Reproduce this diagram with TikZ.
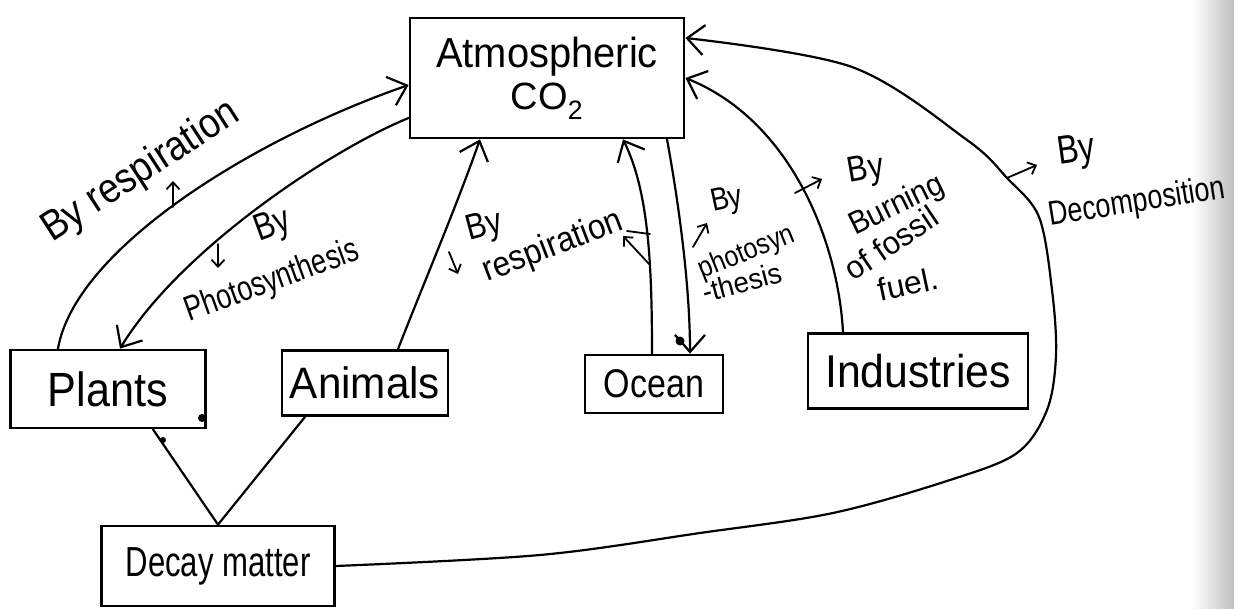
\documentclass[tikz,border=0pt]{standalone}
\usepackage{fontspec}
\setmainfont{Liberation Sans}
\usetikzlibrary{arrows.meta}
% horizontally condensed text, for the tall narrow lettering
\newcommand\narrowtext[2]{\scalebox{#1}[1]{#2}}

\begin{document}
\begin{tikzpicture}[x=1pt,y=-1pt,
  box/.style={draw, line width=2.8pt, inner sep=0pt, align=center},
  link/.style={line width=2.2pt, line cap=round},
  arr/.style={link, -{Straight Barb[length=17pt,width=30pt,line width=2.2pt]}},
  hint/.style={line width=1.8pt, line cap=round,
               -{Straight Barb[length=7pt,width=13pt,line width=1.8pt]}},
  lbl/.style={inner sep=0pt, font=\fontsize{#1pt}{#1pt}\selectfont},
  dot/.style={fill=black}
]
% paper
\useasboundingbox (0,0) rectangle (1234,609);
\fill[white] (0,0) rectangle (1234,609);
\shade[left color=white, right color=black!25] (1192,0) rectangle (1234,609);

% boxes
\node[box, minimum width=274pt, minimum height=120pt, font=\fontsize{42}{44}\selectfont]
  (atm) at (547,78) {\narrowtext{0.95}{Atmospheric}\\[-2pt]{\fontsize{38}{40}\selectfont CO\textsubscript{2}}};
\node[box, minimum width=195pt, minimum height=78pt, font=\fontsize{48}{50}\selectfont]
  (plants) at (108,389) {\narrowtext{0.9}{Plants}};
\node[box, minimum width=166pt, minimum height=65pt, font=\fontsize{44}{46}\selectfont]
  (animals) at (365,383) {\narrowtext{0.96}{Animals}};
\node[box, minimum width=138pt, minimum height=58pt, font=\fontsize{40}{42}\selectfont]
  (ocean) at (654,384) {\narrowtext{0.85}{Ocean}};
\node[box, minimum width=220pt, minimum height=75pt, font=\fontsize{46}{48}\selectfont]
  (ind) at (918,371) {\narrowtext{0.93}{Industries}};
\node[box, minimum width=233pt, minimum height=80pt, font=\fontsize{42}{44}\selectfont]
  (decay) at (218,566) {\narrowtext{0.74}{Decay matter}};

% exchanges with the atmosphere
\draw[arr] ([xshift=-50pt]plants.north) .. controls (75,250) and (250,140) .. ([yshift=-7pt]atm.west);
\draw[arr] ([yshift=-40pt]atm.west) .. controls (330,150) and (180,250) .. ([xshift=12pt]plants.north);
\draw[arr] ([xshift=33pt]animals.north) .. controls (425,280) and (455,210) .. ([xshift=-67pt]atm.south);
\draw[arr] ([xshift=-2pt]ocean.north) .. controls (652,260) and (648,190) .. ([xshift=76pt]atm.south);
\draw[arr] ([xshift=120pt]atm.south) .. controls (680,210) and (690,290) .. ([xshift=36pt]ocean.north);
\draw[arr] ([xshift=-75pt]ind.north) .. controls (838,240) and (790,120) .. (atm.east);
\draw[arr] plot[smooth, tension=0.55] coordinates {(decay.east) (540,555) (700,533) (833,513)
  (950,480) (1017,453) (1047,410) (1056,355) (1052,290) (1039,217) (1007,178) (967,140)
  (852,67) ([yshift=40pt]atm.east)};

% into decay matter
\draw[link] ([xshift=45pt]plants.south) -- (decay.north);
\draw[link] ([xshift=-60pt]animals.south) -- (decay.north);

% small pointers to the labels
\draw[hint] (173,207) -- (173,181);
\draw[hint] (218,244) -- (218,268);
\draw[hint] (449,252) -- (458,274);
\draw[hint] (650,265) -- (623,236);
\draw[link, line width=1.8pt] (627,231) -- (650,234);
\draw[hint] (693,247) -- (707,223);
\draw[hint] (795,193) -- (822,179);
\draw[hint] (1007,178) -- (1037,165);

% labels
\node[lbl=42, rotate=33] (t1) at (141,172) {\narrowtext{0.88}{By respiration}};
\node[lbl=38, rotate=20] (t2a) at (273,227) {\narrowtext{0.8}{By}};
\node[lbl=35, rotate=20] (t2b) at (272,282) {\narrowtext{0.77}{Photosynthesis}};
\node[lbl=36, rotate=15] (t3a) at (485,228) {\narrowtext{0.85}{By}};
\node[lbl=35, rotate=21] (t3b) at (553,247) {\narrowtext{0.9}{respiration}};
\node[lbl=32, rotate=12] (t4a) at (727,201) {\narrowtext{0.85}{By}};
\node[lbl=29, rotate=22] (t4b) at (747,253) {\narrowtext{0.86}{photosyn}};
\node[lbl=29, rotate=15] (t4c) at (742,282) {\narrowtext{0.95}{-thesis}};
\node[lbl=36, rotate=10] (t5a) at (866,171) {\narrowtext{0.85}{By}};
\node[lbl=32, rotate=26] (t5b) at (897,206) {\narrowtext{0.92}{Burning}};
\node[lbl=32, rotate=34] (t5c) at (891,243) {\narrowtext{0.97}{of fossil}};
\node[lbl=32, rotate=12] (t5d) at (908,284) {fuel.};
\node[lbl=40, rotate=8] (t6a) at (1077,152) {\narrowtext{0.8}{By}};
\node[lbl=34, rotate=9] (t6b) at (1137,203) {\narrowtext{0.79}{Decomposition}};

% pen marks
\fill[dot] (680,341) circle (4.5pt);
\fill[dot] (202,418) circle (4pt);
\fill[dot] (163,440) circle (3pt);
\end{tikzpicture}
\end{document}
